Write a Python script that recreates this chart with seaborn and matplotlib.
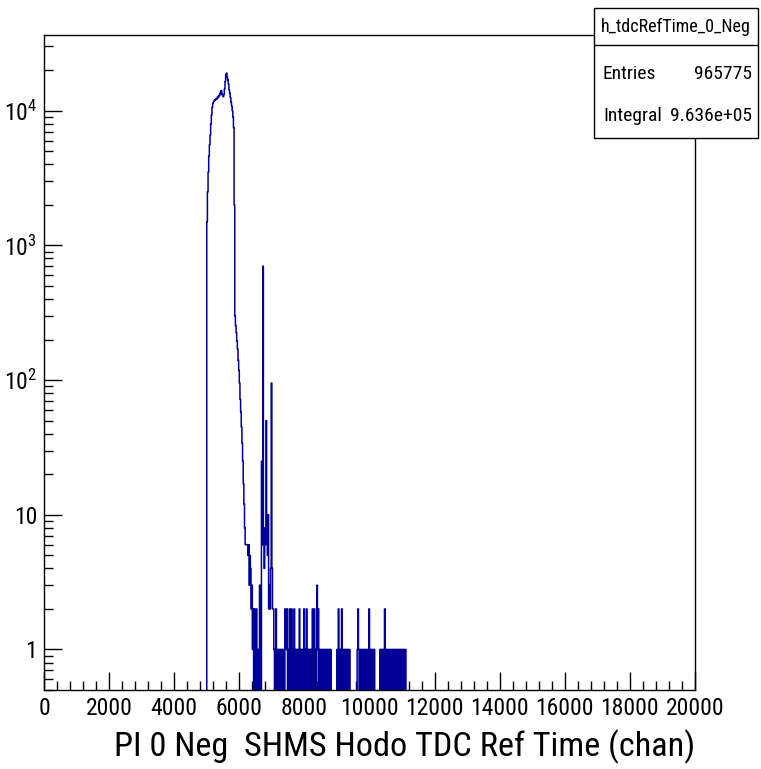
import numpy as np
import pandas as pd
import matplotlib
matplotlib.use("Agg")
import matplotlib.pyplot as plt
import seaborn as sns
from matplotlib import font_manager
from matplotlib.patches import Rectangle
from matplotlib.lines import Line2D
from matplotlib.ticker import FixedLocator, FixedFormatter, MultipleLocator, LogLocator, NullFormatter

# ---------------- data ----------------
BIN_WIDTH = 20
X_MIN, X_MAX = 0, 20000

peak_start = 4980
peak_counts = [0, 1500, 2500, 3500, 4600, 5600, 6600, 8000, 9300, 10600,
               11300, 11600, 11800, 12000, 12100, 12300, 12200, 12600, 12500, 13000,
               12900, 13400, 13900, 14100, 13300, 13000, 12700, 13200, 14500, 16500,
               18500, 19000, 17800, 17000, 15800, 14300, 13500, 12500, 11600, 10800,
               10000, 9000, 7500, 2000, 300, 255, 225, 195, 170, 140,
               118, 95, 72, 58, 45, 34, 25, 17, 12, 8,
               6, 6, 6]

mid_start = 6240
mid_counts = [6, 5, 6, 3, 5, 4, 2, 3, 1, 2,
              0, 2, 1, 0, 2, 1, 0, 1, 0, 3,
              1, 0, 25, 6, 700, 6, 4, 8, 6, 50,
              7, 5, 10, 2, 3, 2, 4, 95, 4, 2]

tail_start = 7040
tail_counts = [2, 1, 0, 1, 2, 0, 1, 0, 1, 1,
               0, 1, 0, 1, 1, 0, 1, 0, 2, 1,
               1, 2, 0, 1, 0, 2, 0, 1, 2, 0,
               1, 0, 2, 1, 0, 1, 0, 1, 1, 0,
               2, 1, 0, 1, 0, 1, 0, 2, 1, 0,
               1, 2, 0, 1, 1, 0, 1, 0, 1, 0,
               2, 0, 1, 2, 0, 1, 0, 3, 1, 2,
               0, 1, 0, 1, 1, 0, 1, 0, 1, 1,
               0, 1, 0, 1, 0, 1, 1, 0, 1, 0,
               0, 0, 0, 0, 0, 0, 0, 0, 1, 0,
               2, 1, 0, 1, 0, 2, 1, 0, 1, 0,
               1, 1, 0, 1, 0, 1, 0, 1, 0, 0,
               0, 0, 0, 0, 0, 0, 0, 0, 0, 1,
               2, 1, 0, 1, 1, 0, 1, 0, 1, 0,
               1, 0, 1, 0, 1, 1, 0, 2, 0, 1,
               1, 0, 1, 0, 1, 1, 0, 0, 0, 0,
               0, 0, 0, 0, 1, 0, 1, 0, 1, 1,
               0, 2, 1, 0, 1, 0, 1, 1, 0, 1,
               0, 1, 0, 1, 1, 0, 1, 0, 1, 0,
               1, 1, 0, 1, 0, 1, 0, 1, 1, 0,
               1, 0, 1, 1]

hist_name = "h_tdcRefTime_0_Neg"
entries_text = "965775"
integral_text = "9.636e+05"
x_title = "PI 0 Neg  SHMS Hodo TDC Ref Time (chan)"
x_tick_values = [0, 2000, 4000, 6000, 8000, 10000, 12000, 14000, 16000, 18000, 20000]
y_tick_values = [1, 10, 100, 1000, 10000]
y_tick_exponents = [None, None, 2, 3, 4]

# ---------------- build table ----------------
def segment(start, counts):
    c = np.asarray(counts, dtype=float)
    centers = start + BIN_WIDTH * (np.arange(len(c)) + 0.5)
    return pd.DataFrame({"chan": centers, "count": c})

df = pd.concat([segment(peak_start, peak_counts),
                segment(mid_start, mid_counts),
                segment(tail_start, tail_counts)], ignore_index=True)

# ---------------- style / fonts ----------------
sns.set_theme(style="white")


def _wt(w):
    if isinstance(w, str):
        return font_manager.weight_dict.get(w.lower(), 400)
    return int(w)


preferred = ["Liberation Sans Narrow", "Arial Narrow", "Roboto Condensed",
             "Noto Sans Condensed", "Open Sans Condensed", "DejaVu Sans Condensed",
             "Noto Sans", "DejaVu Sans", "Roboto", "Open Sans", "Liberation Sans"]
best = None
for f in font_manager.fontManager.ttflist:
    n = f.name
    narrow = ("Narrow" in n) or ("Condensed" in n) or (str(f.stretch) in ("condensed", "semi-condensed"))
    if not narrow or f.style != "normal" or "Mono" in n or "Serif" in n:
        continue
    if abs(_wt(f.weight) - 400) > 60:
        continue
    rank = next((i for i, p in enumerate(preferred) if n == p or n.startswith(p)), 99)
    if best is None or rank < best[0]:
        best = (rank, f)

if best is not None:
    fam, stretch, narrow_font = best[1].name, str(best[1].stretch), True
else:
    fam, stretch, narrow_font = "Liberation Sans", "normal", False

plt.rcParams["font.family"] = [fam, "DejaVu Sans"]
plt.rcParams["font.stretch"] = stretch
plt.rcParams["mathtext.fontset"] = "custom"
pattern = fam if stretch == "normal" else f"{fam}:stretch={stretch}"
plt.rcParams["mathtext.rm"] = pattern
plt.rcParams["mathtext.it"] = pattern
plt.rcParams["mathtext.bf"] = pattern
K = 1.0 if narrow_font else 0.8   # shrink text if no narrow face exists

y_tick_labels = [str(v) if e is None else r"$10^{%d}$" % e
                 for v, e in zip(y_tick_values, y_tick_exponents)]

W, H = 761, 769
fig = plt.figure(figsize=(W / 100, H / 100), dpi=100)
fig.patch.set_facecolor("white")
ax = fig.add_axes([44 / W, 1 - 690 / H, (695 - 44) / W, (690 - 35) / H])
ax.set_facecolor("white")

sns.histplot(data=df, x="chan", weights="count", binwidth=BIN_WIDTH,
             binrange=(X_MIN, X_MAX), element="step",
             fill=False, color="#000099", linewidth=1.1, ax=ax)

ax.set_yscale("log")
ax.set_xlim(X_MIN, X_MAX)
ax.set_ylim(0.5, 36500)

ax.xaxis.set_major_locator(FixedLocator(x_tick_values))
ax.xaxis.set_major_formatter(FixedFormatter([str(v) for v in x_tick_values]))
ax.xaxis.set_minor_locator(MultipleLocator(400))
ax.yaxis.set_major_locator(FixedLocator(y_tick_values))
ax.yaxis.set_major_formatter(FixedFormatter(y_tick_labels))
ax.yaxis.set_minor_locator(LogLocator(base=10, subs=np.arange(2, 10)))
ax.yaxis.set_minor_formatter(NullFormatter())

ax.tick_params(axis="both", which="both", direction="in", colors="black",
               bottom=True, left=True, top=False, right=False)
ax.tick_params(axis="both", which="major", length=13, width=1.0,
               labelsize=17 * K, pad=5)
ax.tick_params(axis="both", which="minor", length=6.5, width=1.0)
for s in ax.spines.values():
    s.set_color("black")
    s.set_linewidth(1.0)
    s.set_visible(True)

ax.set_ylabel("")
ax.set_xlabel(x_title, fontsize=24.7 * K, loc="right", labelpad=7, color="black")

# ---------------- stats box ----------------
bx0, bx1 = 594 / W, 758 / W
by0, by1 = 1 - 138 / H, 1 - 8 / H
fig.add_artist(Rectangle((bx0, by0), bx1 - bx0, by1 - by0, transform=fig.transFigure,
                         facecolor="white", edgecolor="black", linewidth=1.0, zorder=5))
fig.add_artist(Line2D([bx0, bx1], [1 - 45 / H, 1 - 45 / H], transform=fig.transFigure,
                      color="black", linewidth=1.0, zorder=6))
sfs = 14 * K
fig.text((bx0 + bx1) / 2, 1 - 27 / H, hist_name, ha="center", va="center",
         fontsize=13 * K, zorder=7, color="black")
fig.text(603 / W, 1 - 74 / H, "Entries", ha="left", va="center", fontsize=sfs, zorder=7, color="black")
fig.text(752 / W, 1 - 74 / H, entries_text, ha="right", va="center", fontsize=sfs, zorder=7, color="black")
fig.text(603 / W, 1 - 116 / H, "Integral", ha="left", va="center", fontsize=sfs, zorder=7, color="black")
fig.text(752 / W, 1 - 116 / H, integral_text, ha="right", va="center", fontsize=sfs, zorder=7, color="black")

fig.savefig("out.png", dpi=100, facecolor="white")
